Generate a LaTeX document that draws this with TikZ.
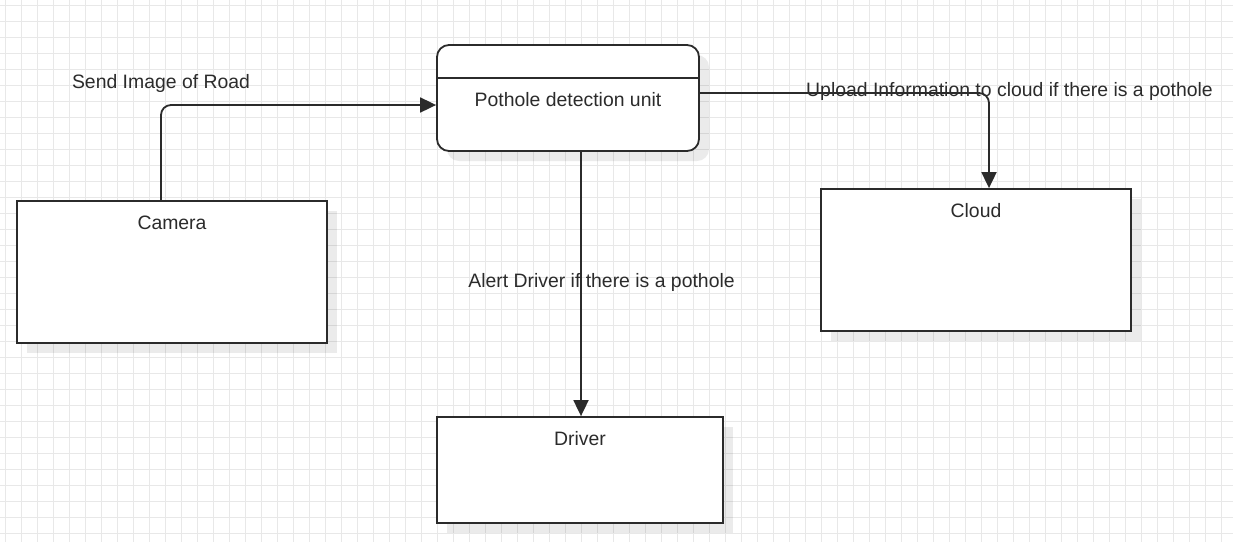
\documentclass[tikz,border=0pt]{standalone}
\usepackage{fontspec}
\setmainfont{Liberation Sans}
\usetikzlibrary{arrows.meta,shadows}
\definecolor{inkgray}{HTML}{2B2B2B}
\definecolor{gridgray}{HTML}{E8E8E8}

\tikzset{
  box/.style={draw=inkgray,line width=1.8pt,fill=white,
              drop shadow={shadow xshift=10pt,shadow yshift=-10pt,fill=black,opacity=0.08}},
  title/.style={inkgray,anchor=base,inner sep=0pt},
  flow/.style={draw=inkgray,line width=1.8pt,rounded corners=10pt,
               -{Triangle[length=16pt,width=15pt]}},
}

\begin{document}
\begin{tikzpicture}[x=1pt,y=-1pt,font=\fontsize{19.4}{23}\selectfont]

  \useasboundingbox (0,0) rectangle (1233,542);

  % --- background grid ---
  \foreach \gx in {5.5,21.5,...,1233}
    \draw[gridgray,line width=0.8pt] (\gx,0) -- (\gx,542);
  \foreach \gy in {5.5,21.5,...,542}
    \draw[gridgray,line width=0.8pt] (0,\gy) -- (1233,\gy);

  % --- blocks ---
  \node[box,rounded corners=12pt,minimum width=262,minimum height=106] (unit) at (568,98) {};
  \draw[inkgray,line width=1.8pt] ([yshift=-34pt]unit.north west) -- ([yshift=-34pt]unit.north east);
  \node[title] (unittitle) at (568,106.7) {Pothole detection unit};

  \node[box,minimum width=310,minimum height=142] (cam) at (172,272) {};
  \node[title] (camtitle) at ([yshift=-29pt]cam.north) {Camera};

  \node[box,minimum width=310,minimum height=142] (cloud) at (976,260) {};
  \node[title] (cloudtitle) at ([yshift=-29pt]cloud.north) {Cloud};

  \node[box,minimum width=286,minimum height=106] (driver) at (580,470) {};
  \node[title] (drivertitle) at ([yshift=-29pt]driver.north) {Driver};

  % --- connectors ---
  \draw[flow] ([xshift=-11pt]cam.north) |- ([yshift=-7pt]unit.west);
  \node[title] (sendlbl) at (161,88) {Send Image of Road};

  \draw[flow] ([yshift=5pt]unit.east) -| ([xshift=13pt]cloud.north);
  \node[title] (uploadlbl) at (1009.5,96.7) {Upload Information to cloud if there is a pothole};

  \draw[flow] ([xshift=13pt]unit.south) -- ([xshift=13pt]unit.south |- driver.north);
  \node[title] (alertlbl) at (601.5,287) {Alert Driver if there is a pothole};

\end{tikzpicture}
\end{document}
